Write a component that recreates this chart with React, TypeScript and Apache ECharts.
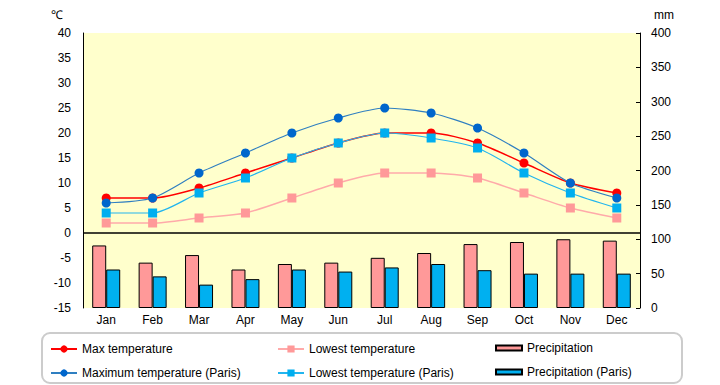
import React, { useEffect, useRef } from "react";
import * as echarts from "echarts";

const months = ["Jan", "Feb", "Mar", "Apr", "May", "Jun", "Jul", "Aug", "Sep", "Oct", "Nov", "Dec"];
const maxTemp = [7, 7, 9, 12, 15, 18, 20, 20, 18, 14, 10, 8];
const lowTemp = [2, 2, 3, 4, 7, 10, 12, 12, 11, 8, 5, 3];
const maxTempParis = [6, 7, 12, 16, 20, 23, 25, 24, 21, 16, 10, 7];
const lowTempParis = [4, 4, 8, 11, 15, 18, 20, 19, 17, 12, 8, 5];
const precip = [91, 66, 77, 56, 64, 66, 73, 80, 93, 96, 100, 98];
const precipParis = [56, 46, 34, 42, 56, 53, 59, 64, 55, 50, 50, 50];

const FONT = "'Liberation Sans', Arial, sans-serif";

export default function App() {
  const ref = useRef<HTMLDivElement>(null);
  useEffect(() => {
    if (!ref.current) return;
    const chart = echarts.init(ref.current, undefined, { renderer: "svg" });
    const lineLegend = (name: string, left: number, top: number) => ({
      data: [name],
      left,
      top,
      padding: 0,
      itemWidth: 26,
      itemHeight: 9,
      itemGap: 0,
      textStyle: { fontSize: 12, color: "#000", fontFamily: FONT },
    });
    const barLegend = (name: string, left: number, top: number) => ({
      data: [{ name, icon: "rect" }],
      left,
      top,
      padding: 0,
      itemWidth: 26,
      itemHeight: 5,
      itemGap: 0,
      textStyle: { fontSize: 12, color: "#000", fontFamily: FONT },
    });
    chart.setOption({
      animation: false,
      textStyle: { fontFamily: FONT },
      grid: {
        left: 83,
        right: 80,
        top: 33,
        bottom: 77,
        show: true,
        backgroundColor: "#FFFFCC",
        borderWidth: 0,
      },
      legend: [
        lineLegend("Max temperature", 50, 343),
        lineLegend("Maximum temperature (Paris)", 50, 367),
        lineLegend("Lowest temperature", 277, 343),
        lineLegend("Lowest temperature (Paris)", 277, 367),
        barLegend("Precipitation", 495, 342),
        barLegend("Precipitation (Paris)", 495, 366),
      ],
      graphic: [
        {
          type: "rect",
          shape: { x: 42, y: 333, width: 640, height: 50, r: 8 },
          style: { fill: "none", stroke: "#cccccc", lineWidth: 2 },
          silent: true,
        },
        {
          type: "text",
          left: 51,
          top: 9,
          style: { text: "℃", fontSize: 12, fill: "#000", fontFamily: FONT },
        },
        {
          type: "text",
          left: 654,
          top: 9,
          style: { text: "mm", fontSize: 12, fill: "#000", fontFamily: FONT },
        },
      ],
      xAxis: {
        type: "category",
        data: months,
        boundaryGap: true,
        axisLine: { show: false },
        axisTick: { show: false },
        axisLabel: { color: "#000", fontSize: 12, margin: 6, fontFamily: FONT },
        splitLine: { show: false },
      },
      yAxis: [
        {
          type: "value",
          min: -15,
          max: 40,
          interval: 5,
          position: "left",
          axisLine: { show: true, lineStyle: { color: "#000", width: 1 } },
          axisTick: { show: false },
          axisLabel: { color: "#000", fontSize: 12, margin: 12, fontFamily: FONT },
          splitLine: { show: false },
        },
        {
          type: "value",
          min: 0,
          max: 400,
          interval: 50,
          position: "right",
          axisLine: { show: true, lineStyle: { color: "#000", width: 1 } },
          axisTick: { show: true, inside: true, length: 4, lineStyle: { color: "#000" } },
          axisLabel: { color: "#000", fontSize: 12, margin: 11, fontFamily: FONT },
          splitLine: { show: false },
        },
      ],
      series: [
        {
          name: "Precipitation",
          type: "bar",
          yAxisIndex: 1,
          data: precip,
          barWidth: 14,
          barGap: "0%",
          itemStyle: { color: "#FF9999", borderColor: "#000", borderWidth: 1 },
          z: 1,
        },
        {
          name: "Precipitation (Paris)",
          type: "bar",
          yAxisIndex: 1,
          data: precipParis,
          barWidth: 14,
          barGap: "0%",
          itemStyle: { color: "#00B0F0", borderColor: "#000", borderWidth: 1 },
          z: 1,
        },
        {
          name: "Lowest temperature",
          type: "line",
          yAxisIndex: 0,
          data: lowTemp,
          smooth: 0.25,
          symbol: "rect",
          symbolSize: 9,
          lineStyle: { color: "#FFAAAA", width: 1.5 },
          itemStyle: { color: "#FF9999" },
          z: 3,
        },
        {
          name: "Lowest temperature (Paris)",
          type: "line",
          yAxisIndex: 0,
          data: lowTempParis,
          smooth: 0.25,
          symbol: "rect",
          symbolSize: 9,
          lineStyle: { color: "#22B5EE", width: 1.2 },
          itemStyle: { color: "#00AEEF" },
          z: 4,
        },
        {
          name: "Max temperature",
          type: "line",
          yAxisIndex: 0,
          data: maxTemp,
          smooth: 0.25,
          symbol: "circle",
          symbolSize: 9,
          lineStyle: { color: "#FF0000", width: 1.5 },
          itemStyle: { color: "#FF0000" },
          z: 3,
          markLine: {
            silent: true,
            symbol: "none",
            label: { show: false },
            lineStyle: { color: "#000", width: 1.5, type: "solid" },
            data: [{ yAxis: 0 }],
          },
        },
        {
          name: "Maximum temperature (Paris)",
          type: "line",
          yAxisIndex: 0,
          data: maxTempParis,
          smooth: 0.25,
          symbol: "circle",
          symbolSize: 9,
          lineStyle: { color: "#2F7FC1", width: 1.2 },
          itemStyle: { color: "#0066CC" },
          z: 5,
        },
      ],
    });
    return () => chart.dispose();
  }, []);
  return <div ref={ref} style={{ width: 720, height: 385, position: "absolute", left: 0, top: 0 }} />;
}
